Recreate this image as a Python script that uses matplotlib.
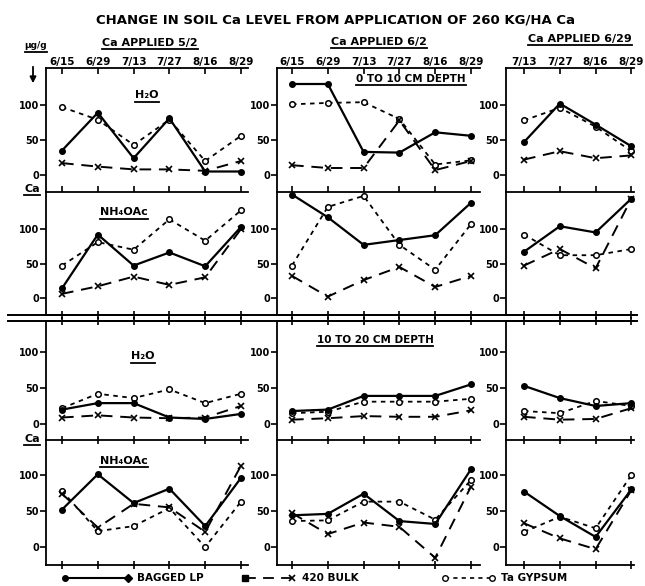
import matplotlib
matplotlib.use("Agg")
import matplotlib.pyplot as plt

plt.rcParams['font.family'] = ['DejaVu Sans']
plt.rcParams['font.weight'] = 'bold'
plt.rcParams['axes.linewidth'] = 1.3

# dates sampled for each application time
dates_early = ["6/15", "6/29", "7/13", "7/27", "8/16", "8/29"]
dates_late = ["7/13", "7/27", "8/16", "8/29"]
applied = ["Ca APPLIED 5/2", "Ca APPLIED 6/2", "Ca APPLIED 6/29"]

# soil Ca, ug/g ; each list holds [applied 5/2, applied 6/2, applied 6/29]
# 0 to 10 cm, H2O extract
lp_h2o_0_10 = [[35, 89, 24, 81, 5, 5], [130, 130, 33, 32, 61, 56], [47, 102, 72, 41]]
bulk_h2o_0_10 = [[17, 12, 8, 8, 6, 20], [14, 10, 10, 78, 7, 20], [22, 34, 24, 28]]
gyp_h2o_0_10 = [[97, 79, 43, 79, 20, 56], [101, 103, 104, 80, 15, 21], [78, 96, 69, 34]]
# 0 to 10 cm, NH4OAc extract
lp_nh4_0_10 = [[14, 92, 47, 66, 46, 103], [150, 117, 77, 84, 91, 138], [67, 104, 95, 144]]
bulk_nh4_0_10 = [[6, 17, 31, 19, 30, 100], [32, 2, 26, 45, 16, 32], [47, 71, 43, 144]]
gyp_nh4_0_10 = [[47, 81, 70, 114, 83, 127], [47, 132, 148, 77, 41, 107], [92, 62, 62, 71]]
# 10 to 20 cm, H2O extract
lp_h2o_10_20 = [[20, 29, 29, 9, 7, 14], [18, 20, 39, 39, 39, 55], [53, 36, 25, 29]]
bulk_h2o_10_20 = [[9, 12, 9, 8, 9, 25], [6, 8, 11, 10, 10, 19], [10, 6, 7, 22]]
gyp_h2o_10_20 = [[22, 42, 36, 48, 29, 42], [15, 17, 31, 31, 31, 35], [18, 15, 32, 25]]
# 10 to 20 cm, NH4OAc extract
lp_nh4_10_20 = [[52, 101, 61, 81, 29, 96], [44, 46, 74, 36, 32, 108], [77, 43, 14, 80]]
bulk_nh4_10_20 = [[74, 27, 60, 55, 21, 113], [47, 18, 34, 28, -15, 84], [33, 12, -3, 79]]
gyp_nh4_10_20 = [[78, 22, 29, 54, 0, 63], [36, 37, 63, 63, 38, 93], [21, 42, 26, 100]]

rows = [(lp_h2o_0_10, bulk_h2o_0_10, gyp_h2o_0_10),
        (lp_nh4_0_10, bulk_nh4_0_10, gyp_nh4_0_10),
        (lp_h2o_10_20, bulk_h2o_10_20, gyp_h2o_10_20),
        (lp_nh4_10_20, bulk_nh4_10_20, gyp_nh4_10_20)]

W, H = 645, 586
fig = plt.figure(figsize=(6.45, 5.86), dpi=100)

# overlay in pixel units for the hand lettering
over = fig.add_axes([0, 0, 1, 1])
over.set_xlim(0, W)
over.set_ylim(H, 0)
over.axis('off')

# panel geometry (pixels)
spine_x = [46, 277, 506]
first_x = [62, 292, 524]
right_x = [248, 480, 634]
step = 35.8
row_top = [68, 192, 321, 440]
row_bot = [192, 315, 440, 565]
zero_px = [175, 298, 424, 547]
ppu = [0.70, 0.69, 0.72, 0.72]

long_dash = (0, (6, 4))
short_dash = (0, (2.5, 2.5))

for r in range(4):
    lp, bulk, gyp = rows[r]
    for c in range(3):
        dates = dates_early if c < 2 else dates_late
        ax = fig.add_axes([spine_x[c] / W, 1 - row_bot[r] / H,
                           (right_x[c] - spine_x[c]) / W, (row_bot[r] - row_top[r]) / H])
        ax.set_facecolor('none')
        xs = list(range(len(dates)))
        ax.plot(xs, gyp[c], color='k', lw=1.3, ls=short_dash, marker='o', ms=4,
                mfc='white', mec='k', mew=1.1)
        ax.plot(xs, bulk[c], color='k', lw=1.4, ls=long_dash, marker='x', ms=4, mew=1.2)
        ax.plot(xs, lp[c], color='k', lw=1.6, ls='-', marker='o', ms=4, mfc='k')
        ax.set_xlim(-(first_x[c] - spine_x[c]) / step, (right_x[c] - first_x[c]) / step)
        ax.set_ylim(-(row_bot[r] - zero_px[r]) / ppu[r], (zero_px[r] - row_top[r]) / ppu[r])
        ax.spines['right'].set_visible(False)
        ax.spines['top'].set_visible(r in (0, 2))
        ax.set_xticks(xs)
        ax.set_xticklabels(dates)
        ax.tick_params(axis='x', direction='inout', length=6, width=1.2,
                       top=(r in (0, 2)), bottom=True, labelbottom=False,
                       labeltop=(r == 0), labelsize=7.5, pad=1)
        if r == 0:
            ax.tick_params(axis='x', which='both', top=True, direction='in', length=4)
        ax.set_yticks([0, 50, 100])
        ax.tick_params(axis='y', direction='out', length=4, width=1.2, labelsize=7, pad=1)

# double rule between the two depths
over.plot([8, 637], [315, 315], color='k', lw=1.4)
over.plot([8, 637], [321, 321], color='k', lw=1.4)

renderer = fig.canvas.get_renderer()


def label(x, y, s, size=8, under=False, gap=2, ha='center'):
    t = over.text(x, y, s, ha=ha, va='center', fontsize=size, fontweight='bold')
    if under:
        bb = t.get_window_extent(renderer)
        yy = H - bb.y0 + gap
        over.plot([bb.x0, bb.x1], [yy, yy], color='k', lw=1.3)
    return t


label(336, 20, "CHANGE IN SOIL Ca LEVEL FROM APPLICATION OF 260 KG/HA Ca", size=9.5)
label(150, 43, applied[0], under=True, gap=1)
label(379, 42, applied[1], under=True, gap=1)
label(580, 39, applied[2], under=True, gap=1)

label(36, 46, "μg/g", size=6.5, under=True, gap=1)
over.annotate("", xy=(33, 86), xytext=(33, 64),
              arrowprops=dict(arrowstyle='-|>', color='k', lw=1.3, mutation_scale=9))
label(32, 189, "Ca", size=8, under=True, gap=1)
label(32, 439, "Ca", size=8, under=True, gap=1)

label(147, 95, "H₂O", under=True, gap=2)
label(124, 212, "NH₄OAc", under=True, gap=2)
label(411, 79, "0 TO 10 CM DEPTH", size=7.5, under=True, gap=1)
label(143, 356, "H₂O", under=True, gap=2)
label(375, 340, "10 TO 20 CM DEPTH", size=7.5, under=True, gap=1)
label(124, 461, "NH₄OAc", under=True, gap=1)

# legend along the bottom
ly = 578
over.plot([65, 128], [ly, ly], color='k', lw=1.5)
over.plot([65], [ly], 'ko', ms=4)
over.plot([128], [ly], 'kD', ms=4)
label(137, ly, "BAGGED LP", size=7.5, ha='left')
over.plot([245, 292], [ly, ly], color='k', lw=1.3, ls=long_dash)
over.plot([245], [ly], 'ks', ms=4)
over.plot([292], [ly], 'kx', ms=4, mew=1.2)
label(302, ly, "420 BULK", size=7.5, ha='left')
over.plot([445, 492], [ly, ly], color='k', lw=1.2, ls=short_dash)
over.plot([445, 492], [ly, ly], 'o', color='k', ms=4, mfc='white', ls='none')
label(501, ly, "Ta GYPSUM", size=7.5, ha='left')

fig.savefig("out.png", dpi=100)
